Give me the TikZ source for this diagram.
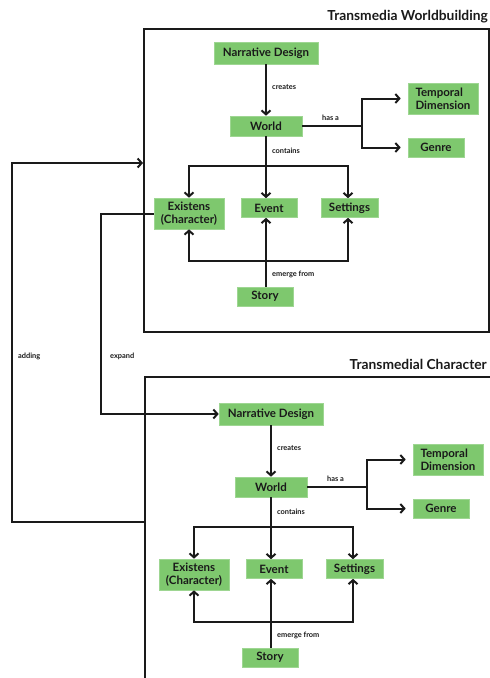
\documentclass[tikz,border=0pt]{standalone}
\usepackage{fontspec}
\setmainfont{Lato}
\usetikzlibrary{arrows.meta}
\definecolor{nodegreen}{HTML}{7EC86E}
\definecolor{ink}{HTML}{1A1A1A}
\newcommand{\WBgraph}[1]{%
  \node[box, minimum width=104, minimum height=22] (nd#1) at (266,53) {Narrative Design};
  \node[box, minimum width=72, minimum height=20] (world#1) at (266,126) {World};
  \node[box, minimum width=70, minimum height=31, align=left] (temp#1) at (443,98.5) {Temporal\\Dimension};
  \node[box, minimum width=56, minimum height=19] (genre#1) at (436,147.5) {Genre};
  \node[box, minimum width=70, minimum height=31] (exist#1) at (189,213.5) {Existens\\(Character)};
  \node[box, minimum width=56, minimum height=19] (event#1) at (269,208) {Event};
  \node[box, minimum width=57, minimum height=19] (sett#1) at (349.5,208) {Settings};
  \node[box, minimum width=56, minimum height=19] (story#1) at (265,296.5) {Story};
  \coordinate (hb#1) at (362,126);
  \coordinate (cb#1) at (266,166);
  \coordinate (eb#1) at (266,260.5);
  \draw[arr] (nd#1.south) -- (world#1.north);
  \draw[conn] (world#1.east) -- (hb#1);
  \draw[arr] (hb#1) |- ([xshift=-7]temp#1.west);
  \draw[arr] (hb#1) |- ([xshift=-7]genre#1.west);
  \draw[conn] (world#1.south) -- (cb#1);
  \draw[arr] (cb#1) -| (exist#1.north);
  \draw[arr] (cb#1) -| ([xshift=-1.5]sett#1.north);
  \draw[arr] (cb#1) -- (cb#1 |- event#1.north);
  \draw[conn] (story#1.north -| eb#1) -- (eb#1);
  \draw[arr] (eb#1) -- (eb#1 |- event#1.south);
  \draw[arr] (eb#1) -| (exist#1.south);
  \draw[arr] (eb#1) -| ([xshift=-1.5]sett#1.south);
  \node[lbl] (lc#1) at (272,87) {creates};
  \node[lbl] (lh#1) at (322,118) {has a};
  \node[lbl] (lo#1) at (272,151) {contains};
  \node[lbl] (le#1) at (272,274) {emerge from};
}
\begin{document}
\begin{tikzpicture}[x=1pt,y=-1pt,
  box/.style={fill=nodegreen, draw=nodegreen!75!white, line width=0.6pt, inner sep=0pt,
    font=\bfseries\fontsize{11.5}{13}\selectfont, text=ink, align=center},
  conn/.style={line width=2pt, draw=ink},
  arr/.style={conn, -{Straight Barb[length=4pt,width=9pt,line width=2pt]}},
  lbl/.style={font=\bfseries\fontsize{7.4}{9}\selectfont, text=ink, anchor=west, inner sep=0pt},
  ttl/.style={font=\bfseries\fontsize{13.8}{16}\selectfont, text=ink, anchor=east, inner sep=0pt},
  framestyle/.style={line width=2pt, draw=ink}]
\useasboundingbox (0,0) rectangle (490,678);
% frames and titles
\node[framestyle, minimum width=345, minimum height=303, inner sep=0pt] (frame1) at (316.5,180.5) {};
\coordinate (f2b) at (145,682);
\coordinate (f2tl) at (145,377);
\coordinate (f2r) at (494,377);
\draw[framestyle] (f2b) -- (f2tl) -- (f2r);
\node[ttl] (title1) at (488,17) {Transmedia Worldbuilding};
\node[ttl] (title2) at (487,364) {Transmedial Character};
% two graphs
\WBgraph{a}
\begin{scope}[shift={(5,361)}]
\WBgraph{b}
\end{scope}
% adding
\coordinate (adds) at (145,522);
\draw[arr] (adds) -- (12,522) -- (12,163) -- (frame1.west |- 0,163);
\node[lbl] (ladd) at (18,356) {adding};
% expand
\draw[arr] (exista.west) -- (101,213.5) |- (ndb.west);
\node[lbl] (lexp) at (110,356) {expand};
\end{tikzpicture}
\end{document}
